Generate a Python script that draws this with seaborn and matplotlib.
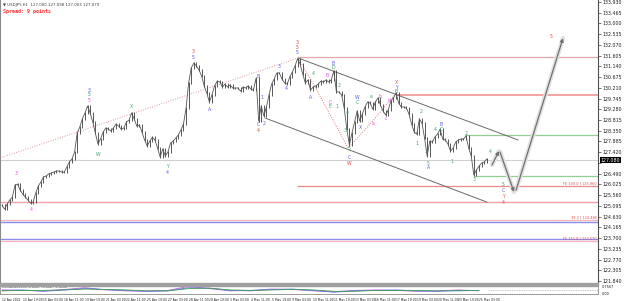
import matplotlib
matplotlib.use("Agg")
import matplotlib.pyplot as plt
import seaborn as sns
import pandas as pd

sns.set_theme(style="white")
plt.rcParams['font.family'] = ['DejaVu Sans']

# ---------------- data (4-hour closes) ----------------
closes = [
    125.13, 124.96, 125.18, 125.35, 125.48, 126.00, 126.04, 125.78, 125.61, 125.48,
    125.35, 125.22, 125.26, 125.65, 125.96, 126.13, 126.35, 126.39, 126.48, 126.52,
    126.56, 126.61, 126.61, 126.56, 126.56, 126.78, 127.00, 127.13, 127.43, 128.25,
    128.51, 128.86, 129.12, 129.42, 129.12, 128.73, 128.25, 127.78, 127.99, 128.29,
    128.47, 128.42, 128.34, 128.47, 128.64, 128.55, 128.42, 128.47, 128.73, 128.81,
    129.12, 128.86, 128.55, 128.60, 128.29, 127.95, 127.69, 127.90, 128.07, 127.95,
    127.60, 127.21, 127.56, 127.26, 127.43, 127.82, 127.90, 128.03, 128.16, 128.38,
    128.64, 129.33, 130.42, 131.07, 131.28, 131.15, 130.98, 130.72, 130.29, 129.98,
    129.59, 129.90, 130.29, 130.50, 130.46, 130.24, 130.37, 130.24, 130.33, 130.20,
    130.20, 130.20, 130.07, 130.24, 130.20, 130.29, 130.16, 130.11, 130.63, 128.77,
    129.42, 128.99, 129.38, 129.90, 130.37, 130.59, 130.85, 130.85, 130.59, 130.42,
    130.37, 130.68, 130.89, 131.15, 131.46, 131.24, 130.81, 130.42, 130.55, 130.11,
    130.24, 130.29, 130.37, 130.50, 130.46, 130.55, 130.46, 130.55, 130.94, 130.03,
    130.03, 129.90, 129.33, 128.42, 127.73, 128.25, 128.73, 129.20, 128.77, 129.07,
    129.38, 129.59, 129.55, 129.29, 129.59, 129.77, 129.46, 129.20, 129.03, 129.25,
    129.64, 129.77, 129.98, 129.55, 129.38, 129.38, 129.33, 129.07, 128.64, 128.29,
    128.21, 128.86, 128.68, 128.03, 127.26, 127.90, 127.86, 128.08, 128.21, 128.42,
    127.99, 127.95, 127.78, 127.47, 127.60, 127.86, 127.95, 127.99, 127.99, 128.12,
    127.60, 127.26, 126.43, 126.65, 126.82, 126.95, 127.00, 127.13,
]
bars = list(range(len(closes)))

time_labels = ["12 Apr 2022", "13 Apr 19:00", "15 Apr 03:00", "18 Apr 11:00", "19 Apr 19:00",
               "21 Apr 03:00", "22 Apr 11:00", "25 Apr 19:00", "27 Apr 03:00", "28 Apr 11:00",
               "29 Apr 19:00", "3 May 03:00", "4 May 11:00", "5 May 19:00", "9 May 03:00",
               "10 May 11:00", "11 May 19:00", "13 May 03:00", "16 May 11:00", "17 May 19:00",
               "19 May 03:00", "20 May 11:00", "23 May 19:00", "25 May 03:00"]
time_label_bars = [0, 8, 16, 24, 32, 40, 48, 56, 64, 72, 80, 88, 96, 104, 112, 120,
                   128, 136, 144, 152, 160, 168, 176, 184]

price_ticks = [121.840, 122.305, 122.770, 123.235, 123.700, 124.165, 124.630, 125.095,
               125.560, 126.025, 126.490, 126.955, 127.420, 127.885, 128.350, 128.815,
               129.280, 129.745, 130.210, 130.675, 131.140, 131.605, 132.070, 132.535,
               133.000, 133.465, 133.930]

current_price = 127.08

# horizontal levels: price, start bar, colour, width
level_prices = [131.54, 129.90, 128.17, 126.39, 125.96, 125.26, 124.48, 124.40, 123.66, 123.57]
level_start = [114, 152.4, 178.6, 182.1, 113.8, -1, -1, -1, -1, -1]
level_colors = ['#e2a8a8', '#f4a4a4', '#8fcf8f', '#8fcf8f', '#f08a8a', '#f4a0aa',
                '#f6b4b4', '#8c8cf0', '#8c8cf0', '#f6b4b4']
level_widths = [0.9, 1.4, 0.9, 0.9, 0.9, 1.0, 0.9, 1.0, 1.0, 0.9]

fe_texts = ["FE 100.0 | 125.960", "38.2 | 124.480", "FE 161.8 | 123.570"]
fe_prices = [125.96, 124.48, 123.57]

# channel lines (bar, price)
chan_upper = ([114.2, 199.1], [131.50, 127.95])
chan_lower = ([101.5, 187.1], [128.90, 125.26])
# dotted pink wave connectors
dot_line1 = ([-0.8, 114.2], [127.17, 131.50])
dot_line2 = ([114.2, 120.8, 133.5, 142.7, 152.0], [131.50, 130.24, 127.60, 128.73, 129.98])

# projected path (bar, price)
proj_bars = [189.0, 191.7, 192.1, 197.5, 198.3, 216.4]
proj_prices = [126.87, 127.47, 127.43, 125.70, 125.78, 132.36]

# wave labels: bar, price, text, colour key
wave_labels = [
    (5.4, 126.52, "3", "m"), (11.2, 124.92, "4", "m"),
    (33.6, 130.11, "3", "b"), (33.6, 129.90, "5", "g"), (33.6, 129.68, "5", "m"),
    (37.0, 127.34, "W", "g"), (49.8, 129.42, "X", "g"),
    (63.7, 126.82, "Y", "g"), (63.7, 126.56, "4", "b"),
    (73.7, 131.76, "3", "r"), (73.7, 131.54, "5", "b"),
    (80.2, 129.29, "A", "b"), (98.8, 130.68, "B", "b"), (100.3, 129.81, "1", "b"),
    (98.8, 128.60, "C", "b"), (98.8, 128.38, "4", "r"), (101.1, 128.68, "2", "b"),
    (106.9, 131.15, "3", "b"), (109.6, 130.16, "4", "b"),
    (113.8, 132.19, "3", "r"), (113.8, 131.97, "5", "r"), (113.8, 131.72, "5", "b"),
    (119.2, 129.77, "A", "b"), (120.0, 130.85, "4", "g"), (125.4, 130.76, "B", "m"),
    (127.7, 131.28, "B", "b"), (127.7, 131.07, "D", "g"),
    (126.5, 129.59, "C", "m"), (126.5, 129.38, "E", "g"),
    (129.2, 129.42, "1", "g"), (130.0, 130.33, "2", "g"),
    (133.1, 129.12, "4", "g"), (132.3, 128.34, "3", "g"),
    (133.9, 127.60, "5", "g"), (133.9, 127.21, "C", "b"), (133.9, 126.95, "W", "r"),
    (137.0, 129.77, "W", "b"), (137.0, 129.59, "C", "g"), (138.1, 128.47, "X", "b"),
    (142.4, 129.85, "a", "g"), (145.8, 129.85, "b", "m"), (148.1, 128.90, "c", "m"),
    (149.3, 129.68, "d", "m"), (143.1, 128.68, "a", "m"),
    (152.0, 130.46, "X", "r"), (152.0, 130.24, "Y", "b"), (152.0, 130.03, "B", "g"),
    (161.7, 129.20, "2", "g"), (160.1, 127.82, "1", "g"), (167.1, 128.42, "4", "g"),
    (163.6, 127.47, "3", "g"), (164.4, 126.95, "5", "g"), (164.4, 126.74, "A", "b"),
    (169.4, 128.64, "B", "b"), (169.4, 128.42, "C", "g"),
    (173.6, 127.04, "1", "g"), (179.0, 128.21, "2", "g"), (182.1, 126.22, "3", "g"),
    (188.3, 127.47, "4", "g"), (211.8, 132.45, "5", "r"),
    (193.3, 126.04, "5", "g"), (193.3, 125.78, "C", "b"), (193.3, 125.52, "Y", "r"),
    (193.3, 125.26, "4", "r"),
]
label_colors = {"m": "#e050e0", "b": "#5a5ae0", "g": "#3f9f6a", "r": "#e04848"}

# oscillator sub-window
osc_bars = [0, 8, 16, 24, 32, 40, 48, 56, 64, 72, 80, 88, 96, 104, 112, 120,
            128, 136, 144, 152, 160, 168, 176, 184]
osc_purple = [0.1, 0.0, -0.1, 0.2, 0.6, 0.1, -0.1, -0.2, 0.0, 0.9, 0.4, -0.1,
              0.0, 0.3, 0.2, -0.1, -0.3, 0.0, 0.1, 0.0, -0.2, -0.1, 0.1, -0.1]
osc_blue = [0.0, 0.1, -0.2, 0.1, 0.4, 0.2, 0.0, -0.2, -0.1, 0.6, 0.5, 0.0,
            -0.1, 0.2, 0.3, 0.0, -0.4, -0.1, 0.0, 0.1, -0.1, -0.2, 0.0, 0.0]
osc_green = [-0.1, 0.0, 0.0, 0.1, 0.3, 0.2, 0.1, -0.1, -0.1, 0.4, 0.5, 0.1,
             0.0, 0.1, 0.2, 0.1, -0.2, -0.2, 0.0, 0.0, 0.0, -0.1, -0.1, 0.0]

# ---------------- layout ----------------
W, H = 625, 301
fig = plt.figure(figsize=(W / 100, H / 100), dpi=100)
fig.patch.set_facecolor('white')
ax = fig.add_axes([0 / W, (H - 283) / H, 598 / W, 283 / H])
axo = fig.add_axes([0 / W, (H - 294) / H, 598 / W, 9 / H], sharex=ax)

x_lo, x_hi = -0.77, 229.9
y_lo, y_hi = 121.76, 134.01
ax.set_xlim(x_lo, x_hi)
ax.set_ylim(y_lo, y_hi)

df = pd.DataFrame({"bar": bars, "close": closes})
df["open"] = [closes[0]] + closes[:-1]

# horizontal levels
for p, s, c, w in zip(level_prices, level_start, level_colors, level_widths):
    ax.hlines(p, max(s, x_lo), x_hi, color=c, lw=w, zorder=1)
ax.axhline(current_price, color='#cfcfcf', lw=0.8, zorder=1)

for t, p in zip(fe_texts, fe_prices):
    ax.text(x_hi - 0.4, p + 0.04, t, fontsize=2.5, color='#e05050', ha='right',
            va='bottom', zorder=5)

# channel + dotted lines
ax.plot(*chan_upper, color='#6a6a6a', lw=0.7, zorder=2)
ax.plot(*chan_lower, color='#6a6a6a', lw=0.7, zorder=2)
ax.plot(*dot_line1, color='#e09a9a', lw=0.7, ls=(0, (1, 1.5)), zorder=2)
ax.plot(*dot_line2, color='#e07a7a', lw=0.7, ls=(0, (1, 1.5)), zorder=2)

# price series
lo = df[["open", "close"]].min(axis=1) - 0.05
hi = df[["open", "close"]].max(axis=1) + 0.05
ax.vlines(df["bar"], lo, hi, color='#3c3c3c', lw=0.6, zorder=3)
sns.lineplot(data=df, x="bar", y="close", ax=ax, color='#555555', lw=0.6, zorder=3)

# projection arrows
for i in range(0, len(proj_bars), 2):
    xs = proj_bars[i:i + 2]
    ys = proj_prices[i:i + 2]
    ax.plot(xs, ys, color='#e2e2e2', lw=3.2, solid_capstyle='round', zorder=2)
    ax.annotate('', xy=(xs[1], ys[1]), xytext=(xs[0], ys[0]),
                arrowprops=dict(arrowstyle='-|>', color='#707070', lw=0.9,
                                mutation_scale=5, shrinkA=0, shrinkB=0), zorder=4)

for b, p, t, c in wave_labels:
    ax.text(b, p, t, fontsize=3.3, color=label_colors[c], ha='center', va='center', zorder=6)

# axis styling
ax.yaxis.tick_right()
ax.set_yticks(price_ticks)
ax.set_yticklabels(["" if abs(v - current_price) < 0.25 else f"{v:.3f}" for v in price_ticks],
                   fontsize=3.4, color='#202020')
ax.tick_params(axis='y', length=2, width=0.5, pad=1.5, colors='#404040', labelcolor='#202020')
ax.tick_params(axis='x', bottom=False, labelbottom=False)
ax.set_xlabel("")
ax.set_ylabel("")
for s in ['top', 'bottom']:
    ax.spines[s].set_visible(False)
ax.spines['left'].set_color('#8a8a8a')
ax.spines['left'].set_linewidth(1.5)
ax.spines['right'].set_color('#505050')
ax.spines['right'].set_linewidth(0.8)

# current price box
ax.text(1.004, (current_price - y_lo) / (y_hi - y_lo), f"{current_price:.3f}",
        transform=ax.transAxes, fontsize=3.4, color='white', ha='left', va='center',
        bbox=dict(boxstyle='square,pad=0.15', fc='black', ec='none'), zorder=10, clip_on=False)

# title
ax.text(0.005, 0.988, "\u25bc USDJPY,H1  127.000 127.098 127.003 127.079", transform=ax.transAxes,
        fontsize=2.8, color='#404040', ha='left', va='top')
ax.text(0.005, 0.968, "Spread: 9 points", transform=ax.transAxes, fontsize=3.6,
        color='#ff3030', ha='left', va='top', family='DejaVu Sans Mono', weight='bold')

# separator bar
fig.patches.append(plt.Rectangle((0, (H - 285.5) / H), 598 / W, 2.5 / H,
                                 transform=fig.transFigure, color='#a0a0a0', zorder=0))

# oscillator
axo.set_ylim(-0.8, 1.2)
axo.plot(osc_bars, osc_purple, color='#c060e0', lw=0.6)
axo.plot(osc_bars, osc_blue, color='#6a6af0', lw=0.6)
axo.plot(osc_bars, osc_green, color='#40a050', lw=0.6)
axo.hlines(0, 188, x_hi, color='#909090', lw=0.5, ls=(0, (1, 1.5)))
axo.text(0.004, 0.98, "OsMA(12,26,9) 0.0087 -0.0027 0.0060", transform=axo.transAxes,
         fontsize=2.4, color='#303030', ha='left', va='top')
axo.yaxis.tick_right()
axo.set_yticks([])
axo.text(1.006, 0.75, "0.7567", transform=axo.transAxes, fontsize=2.5, color='#202020',
         ha='left', va='center')
axo.text(1.006, 0.05, "0.00", transform=axo.transAxes, fontsize=2.5, color='#202020',
         ha='left', va='center')
for s in axo.spines.values():
    s.set_color('#8a8a8a')
    s.set_linewidth(0.6)
axo.set_xticks(time_label_bars)
axo.set_xticklabels(time_labels, fontsize=2.2, color='#202020', ha='left')
axo.tick_params(axis='x', length=1.5, width=0.4, pad=1.2, colors='#404040', labelcolor='#202020')

fig.savefig("out.png", dpi=100, facecolor='white')
